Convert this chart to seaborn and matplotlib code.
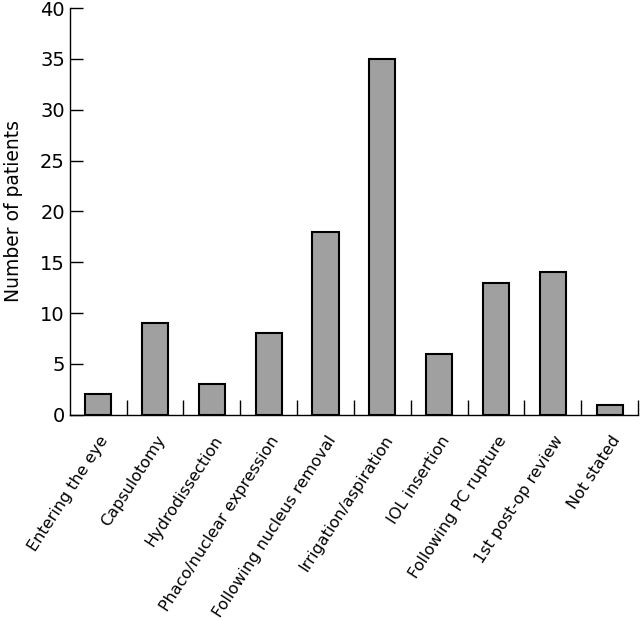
import numpy as np
import pandas as pd
import matplotlib
matplotlib.use("Agg")
import matplotlib.pyplot as plt
import matplotlib.transforms as mtransforms
import seaborn as sns

# Stage at which event occurred
stages = ["Entering the eye", "Capsulotomy", "Hydrodissection",
          "Phaco/nuclear expression", "Following nucleus removal",
          "Irrigation/aspiration", "IOL insertion", "Following PC rupture",
          "1st post-op review", "Not stated"]
patients = [2, 9, 3, 8, 18, 35, 6, 13, 14, 1]

df = pd.DataFrame({"stage": stages, "patients": patients})

sns.set_style("ticks")
plt.rcParams["font.family"] = ["DejaVu Sans"]
plt.rcParams["text.color"] = "black"
plt.rcParams["axes.labelcolor"] = "black"
plt.rcParams["xtick.labelcolor"] = "black"
plt.rcParams["ytick.labelcolor"] = "black"

fig = plt.figure(figsize=(6.4, 6.21), dpi=100)
ax = fig.add_axes([0.109, 0.332, 0.888, 0.655])

sns.barplot(data=df, x="stage", y="patients", color="#a0a0a0",
            edgecolor="black", linewidth=1.5, width=0.46, ax=ax)

ax.set_xlim(-0.5, len(stages) - 0.5)
ax.set_ylim(0, 40)
ax.set_yticks(np.arange(0, 41, 5))
ax.set_ylabel("Number of patients", fontsize=13.5, labelpad=12)
ax.set_xlabel("")

ax.set_xticks(np.arange(len(stages)))
ax.set_xticklabels(stages, rotation=57, ha="right", va="center",
                   rotation_mode="anchor", fontsize=11.5)
ax.tick_params(axis="x", which="major", length=0, pad=16)
ax.set_xticks(np.arange(0.5, len(stages), 1), minor=True)
ax.tick_params(axis="x", which="minor", direction="in", length=11, width=1, color="black")
ax.tick_params(axis="y", direction="in", length=9, width=1, labelsize=14, color="black")

# nudge the rotated labels a little to the right, as in the original
shift = mtransforms.ScaledTranslation(5 / 72, 0, fig.dpi_scale_trans)
for lab in ax.get_xticklabels():
    lab.set_transform(lab.get_transform() + shift)

for side in ["top", "right"]:
    ax.spines[side].set_visible(False)
for side in ["left", "bottom"]:
    ax.spines[side].set_linewidth(1)
    ax.spines[side].set_color("black")

fig.savefig("out.png", dpi=100)
